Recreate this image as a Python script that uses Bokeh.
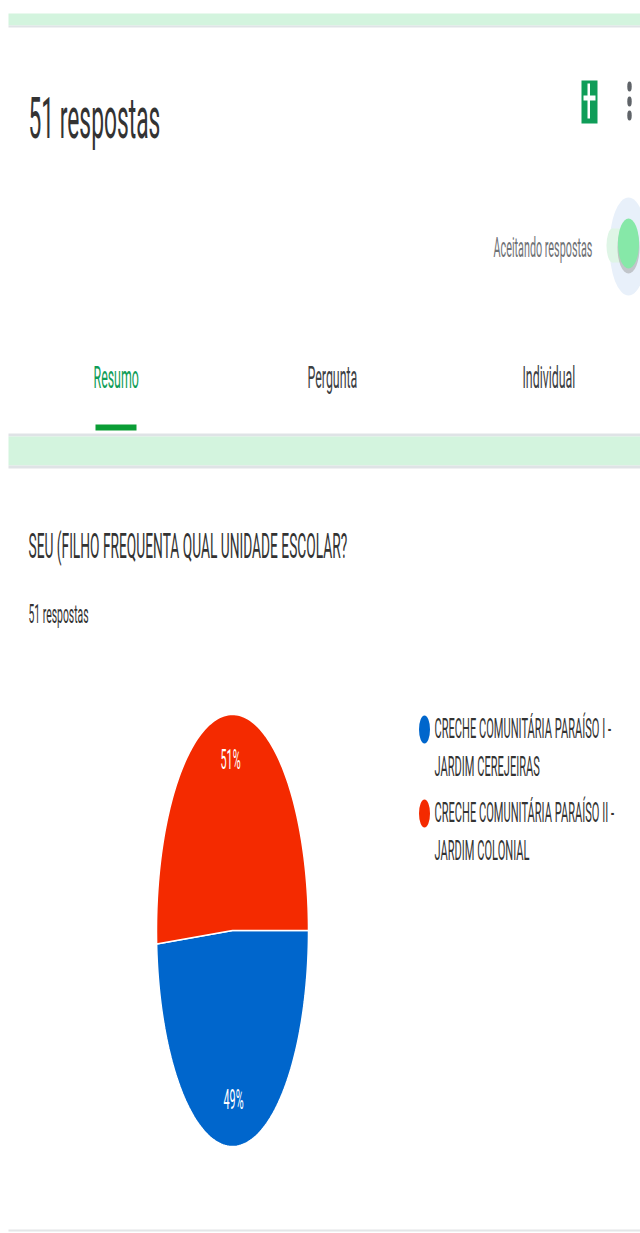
import math
from bokeh.plotting import figure
from bokeh.models import Range1d, CustomJS
from bokeh.core.properties import value
from bokeh.document import Document
from bokeh.embed import file_html
from bokeh.resources import INLINE

# ---- data ----
page_title = "51 respostas"
tabs = ["Resumo", "Pergunta", "Individual"]
question = "SEU (FILHO FREQUENTA QUAL UNIDADE ESCOLAR?"
categories = ["CRECHE COMUNITÁRIA PARAÍSO I -\nJARDIM CEREJEIRAS",
              "CRECHE COMUNITÁRIA PARAÍSO II -\nJARDIM COLONIAL"]
shares = [49, 51]
pct_labels = ["49%", "51%"]
colors = ["#0066cc", "#f42a00"]

FONT = value("Roboto")
p = figure(width=640, height=1233, x_range=Range1d(0, 640), y_range=Range1d(1233, 0),
           toolbar_location=None, output_backend="svg", min_border=0,
           background_fill_color="white", border_fill_color="white", outline_line_color=None)
p.axis.visible = False
p.grid.visible = False

def band(x0, x1, y0, y1, color):
    p.quad(left=x0, right=x1, top=y0, bottom=y1, fill_color=color, line_color=None)
band(8, 640, 13, 25, "#d3f4de")
band(8, 640, 25, 27, "#dfe3e6")
band(8, 640, 433, 436, "#dfe3e6")
band(8, 640, 436, 465, "#d3f4de")
band(8, 640, 465, 468, "#dfe3e6")
band(8, 640, 1229, 1231, "#e4e6e8")

def text(x, y, s, size, color="#333333"):
    p.text(x=[x], y=[y], text=[s], text_font=FONT, text_font_size=f"{size}px",
           text_color=color, text_align="left", text_baseline="middle")

text(28, 118, page_title, 57)
text(493, 248, "Aceitando respostas", 27, "#6f7276")
for s, x, c in zip(tabs, [93, 307, 522], ["#0f9d58", "#3c4043", "#3c4043"]):
    text(x, 377, s, 31, c)
band(95, 136, 424, 430, "#0a9d35")
text(28, 546, question, 34.4)
text(28, 614, page_title, 26)

# sheets icon and menu dots
band(581, 597, 80, 123, "#0f9d58")
band(583, 595, 95, 100, "white")
band(587, 589.5, 83, 118, "white")
p.ellipse(x=[629, 629, 629], y=[86, 101, 115], width=4.5, height=10, fill_color="#5f6368", line_color=None)

# accepting toggle
p.ellipse(x=[628], y=[246], width=38, height=98, fill_color="#e8f0fa", line_color=None)
p.ellipse(x=[612], y=[245], width=12, height=34, fill_color="#dff5e6", line_color=None)
band(612, 628, 228, 262, "#dff5e6")
p.ellipse(x=[628], y=[247], width=22, height=52, fill_color="#9a9a9a", fill_alpha=0.5, line_color=None)
p.ellipse(x=[628], y=[243], width=21, height=50, fill_color="#86e8a8", line_color=None)

# pie: elliptical because the whole page is squeezed horizontally
CX, CY, RX, RY = 232, 930, 76, 216
start = 0.0
for share, color in zip(shares, colors):
    sweep = share / sum(shares) * 2 * math.pi
    steps = 120
    xs, ys = [CX], [CY]
    for i in range(steps + 1):
        a = start + sweep * i / steps
        xs.append(CX + RX * math.cos(a))
        ys.append(CY + RY * math.sin(a))
    p.patch(xs, ys, fill_color=color, line_color="white", line_width=1.5)
    start += sweep
text(223, 1100, pct_labels[0], 27, "white")
text(220, 760, pct_labels[1], 27, "white")

# legend
for (cat, color, y0) in zip(categories, colors, [728, 812]):
    p.ellipse(x=[424], y=[y0 + 1], width=11, height=28, fill_color=color, line_color=None)
    a, b = cat.split("\n")
    text(434, y0, a, 27.7)
    text(434, y0 + 38, b, 27.7)

# the reference page is squeezed horizontally: squeeze the SVG texts the same way
squeeze = CustomJS(code="""
const SX = 0.4;
function walk(root, out) {
  for (const el of root.querySelectorAll('*')) {
    if (el.tagName.toLowerCase() === 'text') out.push(el);
    if (el.shadowRoot) walk(el.shadowRoot, out);
  }
  return out;
}
function run() {
  for (const t of walk(document, [])) {
    if (t.dataset.sq) continue;
    t.dataset.sq = '1';
    const x = parseFloat(t.getAttribute('x') || 0);
    const y = parseFloat(t.getAttribute('y') || 0);
    const old = t.getAttribute('transform') || '';
    t.setAttribute('transform', `${old} translate(${x},${y}) scale(${SX},1) translate(${-x},${-y})`);
  }
}
for (const ms of [0, 50, 200, 500, 1000]) setTimeout(run, ms);
""")
doc = Document()
doc.add_root(p)
doc.js_on_event("document_ready", squeeze)

open("out.html", "w").write(file_html(p, INLINE))
